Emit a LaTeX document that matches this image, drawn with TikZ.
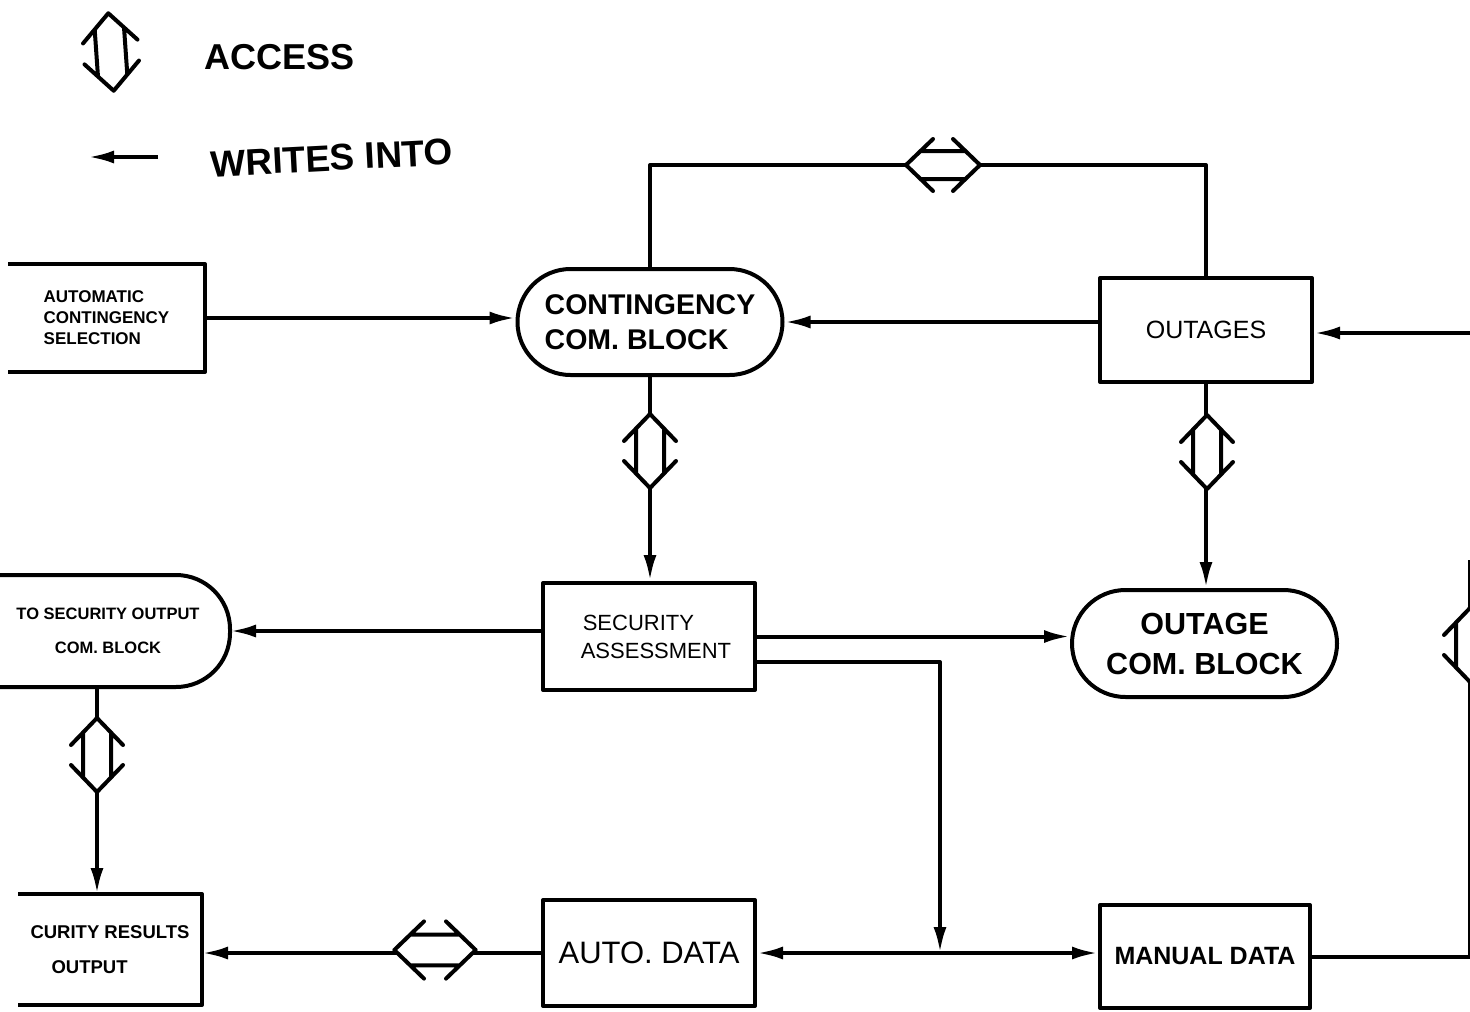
\documentclass[tikz,border=0pt]{standalone}
\usepackage{fontspec}
\setmainfont{Liberation Sans}
\usetikzlibrary{arrows.meta,shapes.misc,calc}
\tikzset{
  accsym/.pic={
    \fill[white] (0,-37) -- (-14,-22.5) -- (-14,22.5) -- (0,37) -- (14,22.5) -- (14,-22.5) -- cycle;
    \draw[line join=round, line cap=round] (-26,-10) -- (0,-37) -- (26,-10)
      (-26,10) -- (0,37) -- (26,10)
      (-14,-22.5) -- (-14,22.5) (14,-22.5) -- (14,22.5);
  },
  box/.style={draw, rectangle, minimum width=212pt, minimum height=106pt, inner sep=0pt, align=center},
  stad/.style={draw, rounded rectangle, minimum width=265pt, minimum height=106pt, inner sep=0pt, align=center},
  opennode/.style={rectangle, inner sep=0pt},
  wr/.style={-{Latex[length=26pt,width=13pt]}},
}
\begin{document}
\begin{tikzpicture}[x=1pt,y=-1pt, line width=4pt, line join=round]
\useasboundingbox (0,0) rectangle (1470,1012);
\clip (0,0) rectangle (1470,1012);

% nodes
\node[opennode, minimum width=193pt, minimum height=104pt, align=left,
      font=\bfseries\fontsize{17}{21}\selectfont] (acs) at (106.5,318) {AUTOMATIC\\CONTINGENCY\\SELECTION};
\draw (acs.north west) -- (acs.north east) -- (acs.south east) -- (acs.south west);

\node[stad, align=left, font=\bfseries\fontsize{28.5}{35}\selectfont] (ccb) at (650,322) {CONTINGENCY\\COM. BLOCK};
\node[box, minimum height=104pt, font=\fontsize{25}{30}\selectfont] (out) at (1206,330) {OUTAGES};
\node[box, minimum height=107pt, align=left, font=\fontsize{22}{28}\selectfont] (sa) at (649,636.5) {\hspace*{16pt}SECURITY\\\hspace*{14pt}ASSESSMENT};
\node[stad, minimum height=107pt, font=\bfseries\fontsize{30.5}{40}\selectfont] (ocb) at (1204.5,643.5) {OUTAGE\\COM. BLOCK};
\node[box, font=\fontsize{31}{36}\selectfont] (ad) at (649,953) {AUTO. DATA};
\node[box, minimum width=210pt, minimum height=103pt, font=\bfseries\fontsize{25}{30}\selectfont] (md) at (1205,956.5) {MANUAL DATA};

\node[opennode, minimum width=240pt, minimum height=108pt, align=center,
      font=\bfseries\fontsize{16.5}{34}\selectfont] (sob) at (108,631) {TO SECURITY OUTPUT\\COM. BLOCK};
\draw[rounded corners=54pt] (sob.north west) -- (sob.north east) -- (sob.south east) -- (sob.south west);

\node[opennode, minimum width=180pt, minimum height=107pt, align=left,
      font=\bfseries\fontsize{18.5}{35}\selectfont] (sro) at (110,949.5) {CURITY RESULTS\\\hspace*{21pt}OUTPUT};
\draw (sro.north west) -- (sro.north east) -- (sro.south east) -- (sro.south west);

% coordinates
\coordinate (a1) at (943,165);
\coordinate (a2) at (650,451);
\coordinate (a3) at (1207,452);
\coordinate (a4) at (97,755);
\coordinate (a5) at (435,950);
\coordinate (a6) at (1470,645);
\coordinate (j) at (940,953);
\coordinate (rin) at (1470,333);
\coordinate (sb) at (755,662);
\coordinate (la) at (111,52);
\coordinate (lw1) at (158,157);
\coordinate (lw2) at (88,157);

% connectors
\draw[wr] (acs.east) -- (acs.east -| ccb.west);
\draw[wr] (out.west |- ccb.east) -- (ccb.east);
\draw[wr] (rin) -- (rin -| out.east);
\draw (ccb.north) -- (ccb.north |- a1) -- (out.north |- a1) -- (out.north);
\draw[wr] (ccb.south) -- (ccb.south |- sa.north);
\draw[wr] (out.south) -- (out.south |- ocb.north);
\draw[wr] (sa.east) -- (sa.east -| ocb.west);
\draw[wr] (sa.west |- sob.east) -- (sob.east);
\draw[wr] (sb) -- (sb -| j) -- (j);
\draw[wr] (j) -- (ad.east);
\draw[wr] (j) -- (j -| md.west);
\draw[wr] (ad.west) -- (ad.west -| sro.east);
\draw[wr] (sob.south -| a4) -- (a4 |- sro.north);
\draw (md.east) -- (md.east -| a6) -- (a6 |- 0,560);

% access symbols
\pic[rotate=90] at (a1) {accsym};
\pic at (a2) {accsym};
\pic at (a3) {accsym};
\pic at (a4) {accsym};
\pic[rotate=90, scale=1.1] at (a5) {accsym};
\pic at (a6) {accsym};

% legend
\pic[rotate=4, scale=1.05] at (la) {accsym};
\node[font=\bfseries\fontsize{36}{40}\selectfont] (lacc) at (280,57) {ACCESS};
\draw[wr] (lw1) -- (lw2);
\node[font=\bfseries\fontsize{37}{40}\selectfont, rotate=3] (lwr) at (332,158) {WRITES INTO};
\end{tikzpicture}
\end{document}
